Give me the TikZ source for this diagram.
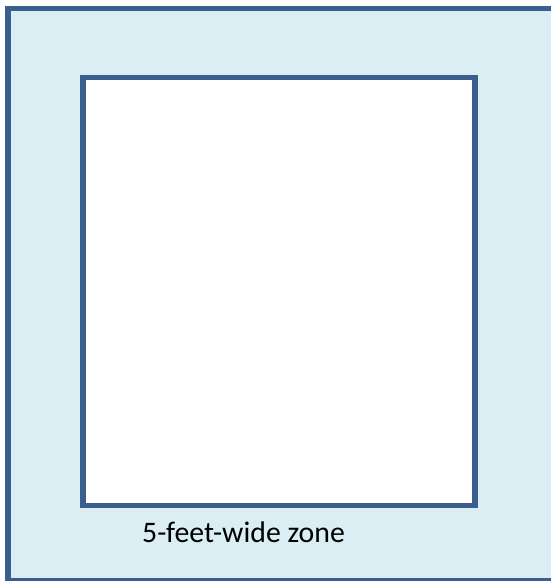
\documentclass[tikz,border=0pt]{standalone}
\usepackage{fontspec}
\setmainfont{Carlito}
\usepackage{tikz}
\usetikzlibrary{positioning}
\definecolor{zoneblue}{HTML}{DAEEF3}
\definecolor{edgeblue}{HTML}{3A5F8E}
\tikzset{
  zone/outer/.style={draw=edgeblue, fill=zoneblue, line width=5.5pt},
  zone/inner/.style={draw=edgeblue, fill=white, line width=5.5pt},
  zone/label/.style={font=\fontsize{29.8}{35}\selectfont, inner sep=0pt, anchor=base west}
}
\begin{document}
\begin{tikzpicture}[x=1pt, y=-1pt]
\useasboundingbox (0,0) rectangle (551,581);
\clip (0,0) rectangle (551,581);
\draw[zone/outer] (8,8.5) rectangle (560,581);
\draw[zone/inner] (83,77.5) rectangle (475,505.5);
\node[zone/label] (width) at (142,542) {5-feet-wide zone};
\end{tikzpicture}
\end{document}
